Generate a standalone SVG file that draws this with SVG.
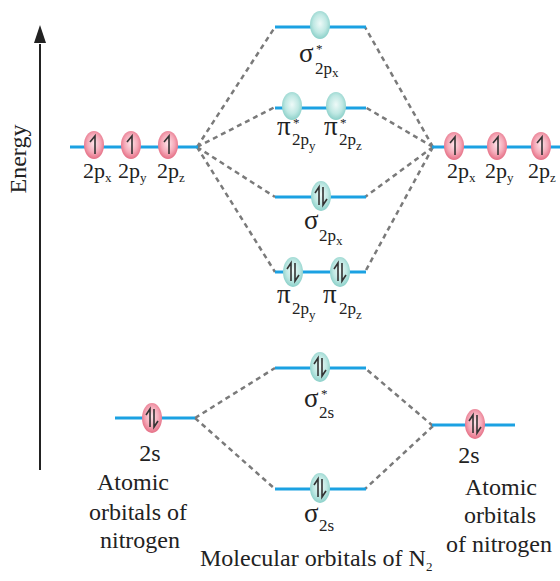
<svg xmlns="http://www.w3.org/2000/svg" width="560" height="581" viewBox="0 0 560 581">
<defs>
<radialGradient id="pk" cx="50%" cy="45%" r="55%">
<stop offset="0" stop-color="#fde4e9"/><stop offset="0.6" stop-color="#f5a9b8"/><stop offset="1" stop-color="#e56f85"/>
</radialGradient>
<radialGradient id="tl" cx="50%" cy="45%" r="55%">
<stop offset="0" stop-color="#eefaf8"/><stop offset="0.6" stop-color="#bfe8e3"/><stop offset="1" stop-color="#8bd0c9"/>
</radialGradient>
<path id="up" d="M1,9 L1,-9 L-4,-3" fill="none" stroke="#333" stroke-width="1.6"/>
<path id="pair" d="M-2,9 L-2,-9 L-6,-3 M2,-9 L2,9 L6,3" fill="none" stroke="#333" stroke-width="1.6"/>
</defs>
<style>
.lv{stroke:#1ba1e2;stroke-width:3;fill:none}
.ds{stroke:#7a7a7a;stroke-width:2.5;stroke-dasharray:5 4;fill:none}
.p{fill:url(#pk)}
.t{fill:url(#tl)}
text{font-family:"Liberation Serif","Times New Roman",serif;fill:#222}
.lb{font-size:24px}
.pl{font-size:22px}
.g{font-size:27px}
.s{font-size:17px}
.ss{font-size:13px}
.st{font-size:13px}
.c{text-anchor:middle}
</style>

<g id="axis">
<line x1="40" y1="470" x2="40" y2="44" stroke="#222" stroke-width="2"/>
<path d="M40,25 L34,43 L46,43 Z" fill="#222"/>
<text class="lb" font-size="26" transform="translate(26,159) rotate(-90)" text-anchor="middle">Energy</text>
</g>

<g id="connectors">
<path class="ds" d="M197,147 L275,27 M197,147 L275,107 M197,147 L275,197 M197,147 L275,272"/>
<path class="ds" d="M433,147 L365,27 M433,147 L365,107 M433,147 L365,197 M433,147 L365,272"/>
<path class="ds" d="M195,418 L275,368 M195,418 L275,489"/>
<path class="ds" d="M433,426 L365,368 M433,426 L365,489"/>
</g>

<g id="left-2p">
<line class="lv" x1="70" y1="147" x2="198" y2="147"/>
<ellipse class="p" cx="94" cy="145" rx="10" ry="14"/><use href="#up" x="94" y="145"/>
<ellipse class="p" cx="131" cy="145" rx="10" ry="14"/><use href="#up" x="131" y="145"/>
<ellipse class="p" cx="168" cy="145" rx="10" ry="14"/><use href="#up" x="168" y="145"/>
<text class="pl" x="83" y="178">2p<tspan class="ss" dy="4">x</tspan></text>
<text class="pl" x="118" y="178">2p<tspan class="ss" dy="4">y</tspan></text>
<text class="pl" x="157" y="178">2p<tspan class="ss" dy="4">z</tspan></text>
</g>

<g id="right-2p">
<line class="lv" x1="432" y1="147" x2="560" y2="147"/>
<ellipse class="p" cx="454" cy="146" rx="10" ry="14"/><use href="#up" x="454" y="146"/>
<ellipse class="p" cx="497" cy="146" rx="10" ry="14"/><use href="#up" x="497" y="146"/>
<ellipse class="p" cx="541" cy="146" rx="10" ry="14"/><use href="#up" x="541" y="146"/>
<text class="pl" x="447" y="178">2p<tspan class="ss" dy="4">x</tspan></text>
<text class="pl" x="485" y="178">2p<tspan class="ss" dy="4">y</tspan></text>
<text class="pl" x="528" y="178">2p<tspan class="ss" dy="4">z</tspan></text>
</g>

<g id="sigma-star-2px">
<line class="lv" x1="275" y1="27" x2="366" y2="27"/>
<ellipse class="t" cx="320" cy="25" rx="10" ry="14"/>
<text class="g" x="299" y="62">σ</text>
<text class="st" x="316" y="53">*</text>
<text class="s" x="315" y="74">2p<tspan class="ss" dy="3">x</tspan></text>
</g>

<g id="pi-star-2p">
<line class="lv" x1="275" y1="108" x2="366" y2="108"/>
<ellipse class="t" cx="292" cy="106" rx="10" ry="14"/>
<ellipse class="t" cx="336" cy="106" rx="10" ry="14"/>
<text class="g" x="277" y="135">π</text>
<text class="st" x="293" y="127">*</text>
<text class="s" x="292" y="145">2p<tspan class="ss" dy="5">y</tspan></text>
<text class="g" x="324" y="135">π</text>
<text class="st" x="340" y="127">*</text>
<text class="s" x="339" y="145">2p<tspan class="ss" dy="5">z</tspan></text>
</g>

<g id="sigma-2px">
<line class="lv" x1="275" y1="197" x2="366" y2="197"/>
<ellipse class="t" cx="321" cy="196" rx="10" ry="15"/><use href="#pair" x="321" y="196"/>
<text class="g" x="304" y="229">σ</text>
<text class="s" x="319" y="241">2p<tspan class="ss" dy="4">x</tspan></text>
</g>

<g id="pi-2p">
<line class="lv" x1="275" y1="272" x2="366" y2="272"/>
<ellipse class="t" cx="293" cy="272" rx="10" ry="15"/><use href="#pair" x="293" y="272"/>
<ellipse class="t" cx="340" cy="272" rx="10" ry="15"/><use href="#pair" x="340" y="272"/>
<text class="g" x="277" y="303">π</text>
<text class="s" x="292" y="314">2p<tspan class="ss" dy="5">y</tspan></text>
<text class="g" x="323" y="303">π</text>
<text class="s" x="339" y="314">2p<tspan class="ss" dy="5">z</tspan></text>
</g>

<g id="sigma-star-2s">
<line class="lv" x1="275" y1="368" x2="366" y2="368"/>
<ellipse class="t" cx="320" cy="367" rx="10" ry="15"/><use href="#pair" x="320" y="367"/>
<text class="g" x="304" y="407">σ</text>
<text class="st" x="321" y="398">*</text>
<text class="s" x="319" y="418">2s</text>
</g>

<g id="sigma-2s">
<line class="lv" x1="275" y1="489" x2="366" y2="489"/>
<ellipse class="t" cx="320" cy="488" rx="10" ry="15"/><use href="#pair" x="320" y="488"/>
<text class="g" x="304" y="522">σ</text>
<text class="s" x="319" y="531">2s</text>
</g>

<g id="left-2s">
<line class="lv" x1="115" y1="418" x2="195" y2="418"/>
<ellipse class="p" cx="152" cy="418" rx="10" ry="15"/><use href="#pair" x="152" y="418"/>
<text class="lb c" x="150" y="461">2s</text>
<text class="lb c" x="133" y="490">Atomic</text>
<text class="lb c" x="138" y="520">orbitals of</text>
<text class="lb c" x="140" y="548">nitrogen</text>
</g>

<g id="right-2s">
<line class="lv" x1="432" y1="425" x2="515" y2="425"/>
<ellipse class="p" cx="475" cy="424" rx="10" ry="15"/><use href="#pair" x="475" y="424"/>
<text class="lb c" x="469" y="463">2s</text>
<text class="lb c" x="501" y="495">Atomic</text>
<text class="lb c" x="500" y="523">orbitals</text>
<text class="lb c" x="499" y="552">of nitrogen</text>
</g>

<g id="title">
<text class="lb" x="200" y="566">Molecular orbitals of N<tspan class="ss" dy="5">2</tspan></text>
</g>
</svg>
